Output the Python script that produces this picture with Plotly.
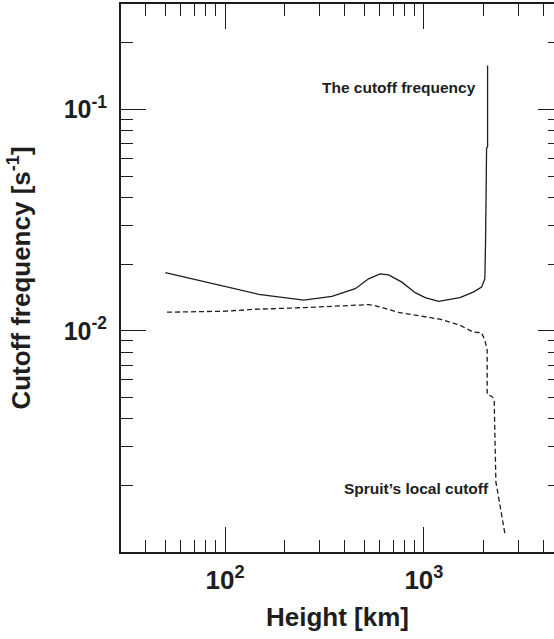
import numpy as np
import plotly.graph_objects as go

# ---- data ----
cutoff_height = [50.1, 147.7, 248.7, 345, 451.6, 527, 603, 665, 775, 904, 1015, 1185,
                 1517, 1769, 1950, 2025, 2042, 2066, 2066, 2090, 2090]
cutoff_freq = [0.0183, 0.01462, 0.01377, 0.0143, 0.0155, 0.01718, 0.01809, 0.0179,
               0.01659, 0.01487, 0.01412, 0.01359, 0.01412, 0.01496, 0.01575, 0.01718,
               0.0255, 0.0526, 0.0667, 0.068, 0.158]

spruit_height = [51.1, 100.3, 142, 253, 527, 580, 746, 1204, 1517, 1769, 1950, 2025,
                 2080, 2080, 2189, 2256, 2301, 2553]
spruit_freq = [0.01213, 0.01226, 0.01251, 0.01273, 0.01313, 0.01294, 0.0121, 0.01128,
               0.0106, 0.00986, 0.0098, 0.00908, 0.00819, 0.00515, 0.00506, 0.00489,
               0.002075, 0.001213]

x_major = [100, 1000]
x_major_text = ["10<sup>2</sup>", "10<sup>3</sup>"]
x_minor = [30, 40, 50, 60, 70, 80, 90, 200, 300, 400, 500, 600, 700, 800, 900,
           2000, 3000, 4000]
y_major = [0.01, 0.1]
y_major_text = ["10<sup>-2</sup>", "10<sup>-1</sup>"]
y_minor = [0.002, 0.003, 0.004, 0.005, 0.006, 0.007, 0.008, 0.009,
           0.02, 0.03, 0.04, 0.05, 0.06, 0.07, 0.08, 0.09, 0.2, 0.3]

label_cutoff = "The cutoff frequency"
label_spruit = "Spruit’s local cutoff"

x_range = [np.log10(30), 3.6541]
y_range = [-3.0, np.log10(0.3)]

INK = "#1e1e1e"
FONT = "Liberation Sans"

fig = go.Figure()
fig.add_trace(go.Scatter(x=cutoff_height, y=cutoff_freq, mode="lines",
                         line=dict(color=INK, width=1.3), showlegend=False))
fig.add_trace(go.Scatter(x=spruit_height, y=spruit_freq, mode="lines",
                         line=dict(color=INK, width=1.3, dash="5px,3px"), showlegend=False))
# invisible trace to host the right-hand tick axis
fig.add_trace(go.Scatter(x=[100], y=[0.01], yaxis="y2", mode="markers",
                         marker=dict(opacity=0), showlegend=False, hoverinfo="skip"))

fig.add_annotation(x=np.log10(1880), y=np.log10(0.1264), text=label_cutoff,
                   showarrow=False, xanchor="right", yanchor="middle",
                   font=dict(family=FONT, size=15.5, color=INK, weight=700))
fig.add_annotation(x=np.log10(2180), y=np.log10(0.00194), text=label_spruit,
                   showarrow=False, xanchor="right", yanchor="middle",
                   font=dict(family=FONT, size=15.5, color=INK, weight=700))

fig.update_layout(
    width=554, height=639,
    margin=dict(l=121, r=0, t=4, b=87),
    paper_bgcolor="white", plot_bgcolor="white",
    font=dict(family=FONT, color=INK),
    xaxis=dict(
        type="log", range=x_range,
        showline=True, linecolor=INK, linewidth=2, mirror="ticks",
        ticks="inside", ticklen=25, tickwidth=1.3, tickcolor=INK,
        tickmode="array", tickvals=x_major, ticktext=x_major_text,
        tickfont=dict(family=FONT, size=26, color=INK, weight=700),
        ticklabelstandoff=4,
        minor=dict(tickmode="array", tickvals=x_minor, ticks="inside",
                   ticklen=12, tickwidth=1.3, tickcolor=INK, showgrid=False),
        showgrid=False, zeroline=False,
        title=dict(text="Height [km]",
                   font=dict(family=FONT, size=26, color=INK, weight=700),
                   standoff=14),
    ),
    yaxis=dict(
        type="log", range=y_range,
        showline=True, linecolor=INK, linewidth=2, mirror=False,
        ticks="inside", ticklen=25, tickwidth=1.3, tickcolor=INK,
        tickmode="array", tickvals=y_major, ticktext=y_major_text,
        tickfont=dict(family=FONT, size=25, color=INK, weight=700),
        ticklabelstandoff=7,
        minor=dict(tickmode="array", tickvals=y_minor, ticks="inside",
                   ticklen=12, tickwidth=1.3, tickcolor=INK, showgrid=False),
        showgrid=False, zeroline=False,
        title=dict(text="Cutoff frequency [s<sup>-1</sup>]",
                   font=dict(family=FONT, size=26, color=INK, weight=700),
                   standoff=26),
    ),
    yaxis2=dict(
        type="log", range=y_range, overlaying="y", side="right",
        showline=False, showticklabels=False,
        ticks="inside", ticklen=16, tickwidth=1.3, tickcolor=INK,
        tickmode="array", tickvals=y_major,
        minor=dict(tickmode="array", tickvals=y_minor, ticks="inside",
                   ticklen=6, tickwidth=1.3, tickcolor=INK, showgrid=False),
        showgrid=False, zeroline=False,
    ),
)

fig.write_html("out.html")
